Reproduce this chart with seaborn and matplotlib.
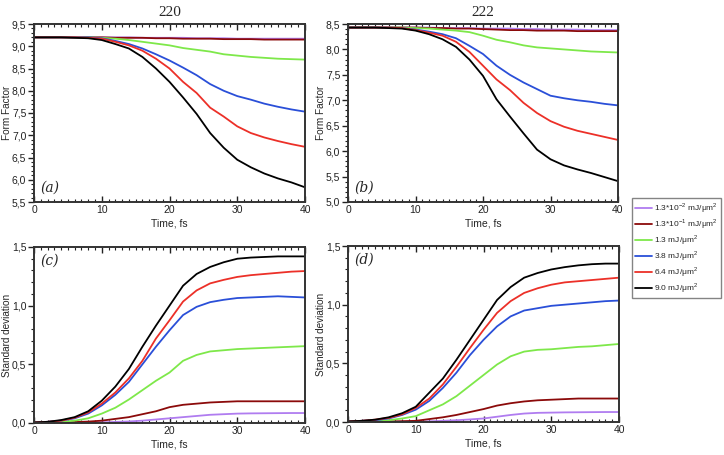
import matplotlib
matplotlib.use('Agg')
import matplotlib.pyplot as plt
from matplotlib.ticker import MultipleLocator, FuncFormatter
import pandas as pd
import seaborn as sns

# time grid, fs
time = list(range(0, 41, 2))

labels = ["1.3*10$^{-2}$ mJ/\u03bcm$^2$", "1.3*10$^{-1}$ mJ/\u03bcm$^2$", "1.3 mJ/\u03bcm$^2$",
          "3.8 mJ/\u03bcm$^2$", "6.4 mJ/\u03bcm$^2$", "9.0 mJ/\u03bcm$^2$"]
colors = ["#b07cf0", "#8b0a0a", "#7ee84a", "#2a4fd8", "#ec3028", "#000000"]

# (a) form factor 220
ff220 = [
    [9.2, 9.2, 9.2, 9.2, 9.2, 9.2, 9.2, 9.2, 9.19, 9.19, 9.19, 9.19, 9.18, 9.18, 9.18, 9.17, 9.17, 9.17, 9.17, 9.17, 9.17],
    [9.2, 9.2, 9.2, 9.2, 9.2, 9.2, 9.19, 9.19, 9.19, 9.18, 9.18, 9.17, 9.17, 9.17, 9.16, 9.16, 9.16, 9.15, 9.15, 9.15, 9.15],
    [9.2, 9.2, 9.2, 9.2, 9.2, 9.19, 9.17, 9.14, 9.1, 9.06, 9.02, 8.96, 8.92, 8.88, 8.82, 8.79, 8.76, 8.74, 8.72, 8.71, 8.7],
    [9.2, 9.2, 9.2, 9.2, 9.2, 9.18, 9.12, 9.05, 8.95, 8.82, 8.68, 8.52, 8.35, 8.15, 8.0, 7.88, 7.8, 7.71, 7.64, 7.58, 7.53],
    [9.2, 9.2, 9.2, 9.2, 9.19, 9.17, 9.1, 9.02, 8.9, 8.72, 8.5, 8.2, 7.95, 7.62, 7.42, 7.2, 7.05, 6.95, 6.87, 6.8, 6.74],
    [9.2, 9.2, 9.2, 9.19, 9.18, 9.14, 9.05, 8.95, 8.76, 8.5, 8.2, 7.85, 7.48, 7.05, 6.72, 6.45, 6.28, 6.14, 6.03, 5.94, 5.83],
]
# (b) form factor 222
ff222 = [
    [8.43, 8.43, 8.43, 8.43, 8.43, 8.43, 8.43, 8.42, 8.42, 8.42, 8.41, 8.41, 8.41, 8.4, 8.4, 8.39, 8.39, 8.39, 8.38, 8.38, 8.38],
    [8.43, 8.43, 8.43, 8.43, 8.43, 8.43, 8.42, 8.42, 8.41, 8.41, 8.4, 8.39, 8.38, 8.38, 8.37, 8.37, 8.37, 8.36, 8.36, 8.36, 8.36],
    [8.43, 8.43, 8.43, 8.43, 8.43, 8.42, 8.41, 8.39, 8.37, 8.34, 8.27, 8.19, 8.14, 8.08, 8.04, 8.02, 8.0, 7.98, 7.96, 7.95, 7.94],
    [8.43, 8.43, 8.43, 8.43, 8.42, 8.39, 8.35, 8.3, 8.22, 8.07, 7.91, 7.68, 7.5, 7.35, 7.22, 7.09, 7.04, 7.0, 6.97, 6.93, 6.9],
    [8.43, 8.43, 8.43, 8.43, 8.42, 8.38, 8.33, 8.27, 8.15, 7.95, 7.68, 7.41, 7.2, 6.95, 6.75, 6.59, 6.48, 6.4, 6.34, 6.28, 6.22],
    [8.43, 8.43, 8.43, 8.42, 8.41, 8.37, 8.3, 8.2, 8.05, 7.8, 7.48, 7.02, 6.68, 6.35, 6.03, 5.84, 5.72, 5.64, 5.57, 5.49, 5.41],
]
# (c) standard deviation 220
sd220 = [
    [0, 0, 0, 0.002, 0.004, 0.006, 0.009, 0.013, 0.02, 0.03, 0.04, 0.05, 0.06, 0.07, 0.075, 0.08, 0.082, 0.083, 0.084, 0.085, 0.085],
    [0, 0.002, 0.005, 0.008, 0.012, 0.02, 0.035, 0.05, 0.075, 0.1, 0.135, 0.155, 0.165, 0.175, 0.18, 0.185, 0.185, 0.185, 0.185, 0.185, 0.185],
    [0.003, 0.005, 0.01, 0.02, 0.04, 0.08, 0.13, 0.2, 0.28, 0.36, 0.43, 0.53, 0.58, 0.61, 0.62, 0.63, 0.635, 0.64, 0.645, 0.65, 0.655],
    [0.005, 0.01, 0.02, 0.04, 0.08, 0.15, 0.24, 0.35, 0.5, 0.65, 0.79, 0.92, 0.99, 1.03, 1.05, 1.065, 1.07, 1.075, 1.08, 1.075, 1.07],
    [0.005, 0.01, 0.02, 0.045, 0.09, 0.165, 0.26, 0.38, 0.53, 0.72, 0.875, 1.035, 1.13, 1.19, 1.22, 1.245, 1.26, 1.27, 1.28, 1.29, 1.295],
    [0.005, 0.01, 0.025, 0.05, 0.1, 0.19, 0.31, 0.46, 0.65, 0.83, 1.0, 1.17, 1.27, 1.33, 1.37, 1.4, 1.41, 1.415, 1.42, 1.42, 1.42],
]
# (d) standard deviation 222
sd222 = [
    [0, 0, 0, 0.001, 0.002, 0.003, 0.006, 0.01, 0.015, 0.022, 0.03, 0.045, 0.06, 0.072, 0.078, 0.08, 0.082, 0.083, 0.084, 0.085, 0.085],
    [0, 0.002, 0.003, 0.005, 0.007, 0.01, 0.025, 0.04, 0.06, 0.085, 0.11, 0.14, 0.16, 0.175, 0.185, 0.19, 0.195, 0.2, 0.2, 0.2, 0.2],
    [0.003, 0.005, 0.01, 0.015, 0.03, 0.05, 0.1, 0.15, 0.22, 0.31, 0.4, 0.49, 0.56, 0.6, 0.615, 0.62, 0.63, 0.64, 0.645, 0.655, 0.665],
    [0.005, 0.01, 0.015, 0.03, 0.06, 0.105, 0.18, 0.29, 0.42, 0.57, 0.7, 0.815, 0.9, 0.95, 0.97, 0.99, 1.0, 1.01, 1.02, 1.03, 1.035],
    [0.005, 0.01, 0.02, 0.035, 0.065, 0.12, 0.2, 0.32, 0.47, 0.63, 0.785, 0.93, 1.03, 1.1, 1.14, 1.17, 1.19, 1.2, 1.21, 1.22, 1.23],
    [0.005, 0.01, 0.02, 0.04, 0.075, 0.13, 0.25, 0.37, 0.53, 0.7, 0.87, 1.04, 1.15, 1.23, 1.27, 1.3, 1.32, 1.335, 1.345, 1.35, 1.35],
]


def to_frame(series):
    rows = []
    for lab, vals in zip(labels, series):
        for t, v in zip(time, vals):
            rows.append({"time": t, "value": v, "fluence": lab})
    return pd.DataFrame(rows)


sns.set_style("ticks")
plt.rcParams['font.family'] = ['Liberation Sans', 'DejaVu Sans']
plt.rcParams['mathtext.fontset'] = 'custom'
plt.rcParams['mathtext.rm'] = 'Liberation Sans'

fig = plt.figure(figsize=(7.24, 4.55), dpi=100)
W, H = 724, 455
def box(x0, y0, x1, y1):
    return [x0 / W, 1 - y1 / H, (x1 - x0) / W, (y1 - y0) / H]

ax_a = fig.add_axes(box(34, 24, 305, 202))
ax_b = fig.add_axes(box(348, 24, 618, 202))
ax_c = fig.add_axes(box(34, 247, 305, 423))
ax_d = fig.add_axes(box(348, 246, 619, 422))

comma = FuncFormatter(lambda v, p: ("%.1f" % v).replace(".", ","))
panels = [
    (ax_a, ff220, (5.5, 9.5), "Form Factor", "(a)", "220"),
    (ax_b, ff222, (5.0, 8.5), "Form Factor", "(b)", "222"),
    (ax_c, sd220, (0.0, 1.5), "Standard deviation", "(c)", None),
    (ax_d, sd222, (0.0, 1.5), "Standard deviation", "(d)", None),
]
for ax, series, ylim, ylab, tag, title in panels:
    df = to_frame(series)
    sns.lineplot(data=df, x="time", y="value", hue="fluence", palette=colors,
                 hue_order=labels, linewidth=1.3, ax=ax, legend=False)
    ax.set_xlim(0, 40)
    ax.set_ylim(*ylim)
    ax.xaxis.set_major_locator(MultipleLocator(10))
    ax.xaxis.set_minor_locator(MultipleLocator(1))
    ax.yaxis.set_major_locator(MultipleLocator(0.5))
    ax.yaxis.set_minor_locator(MultipleLocator(0.1))
    ax.yaxis.set_major_formatter(comma)
    ax.tick_params(axis="x", which="both", direction="in", top=True, labelsize=7.5,
                   pad=2, colors="#222222")
    ax.tick_params(axis="y", which="both", direction="out", labelsize=7.5, pad=1.5,
                   colors="#222222")
    ax.tick_params(which="major", length=4, width=1)
    ax.tick_params(which="minor", length=2.2, width=0.8)
    for sp in ax.spines.values():
        sp.set_visible(True)
        sp.set_linewidth(1.4)
        sp.set_color("#333333")
    ax.set_xlabel("Time, fs", fontsize=7.5, labelpad=3)
    ax.set_ylabel(ylab, fontsize=7.2)
    ax.yaxis.set_label_coords(-0.082, 0.5)
    ax.text(0.025, 0.06 if title else 0.9, tag, transform=ax.transAxes,
            fontsize=10, family="DejaVu Serif", style="italic")
    if title:
        ax.set_title(title, fontsize=11, family="Liberation Serif", pad=6)

handles = [plt.Line2D([], [], color=c, lw=1.3) for c in colors]
fig.legend(handles, labels, loc="upper left", bbox_to_anchor=(632 / W, 1 - 198 / H),
           fontsize=6.0, frameon=True, fancybox=False, edgecolor="#666666",
           handlelength=2.0, handletextpad=0.3, labelspacing=0.25, borderpad=0.35,
           borderaxespad=0)

fig.savefig("out.png", dpi=100)
